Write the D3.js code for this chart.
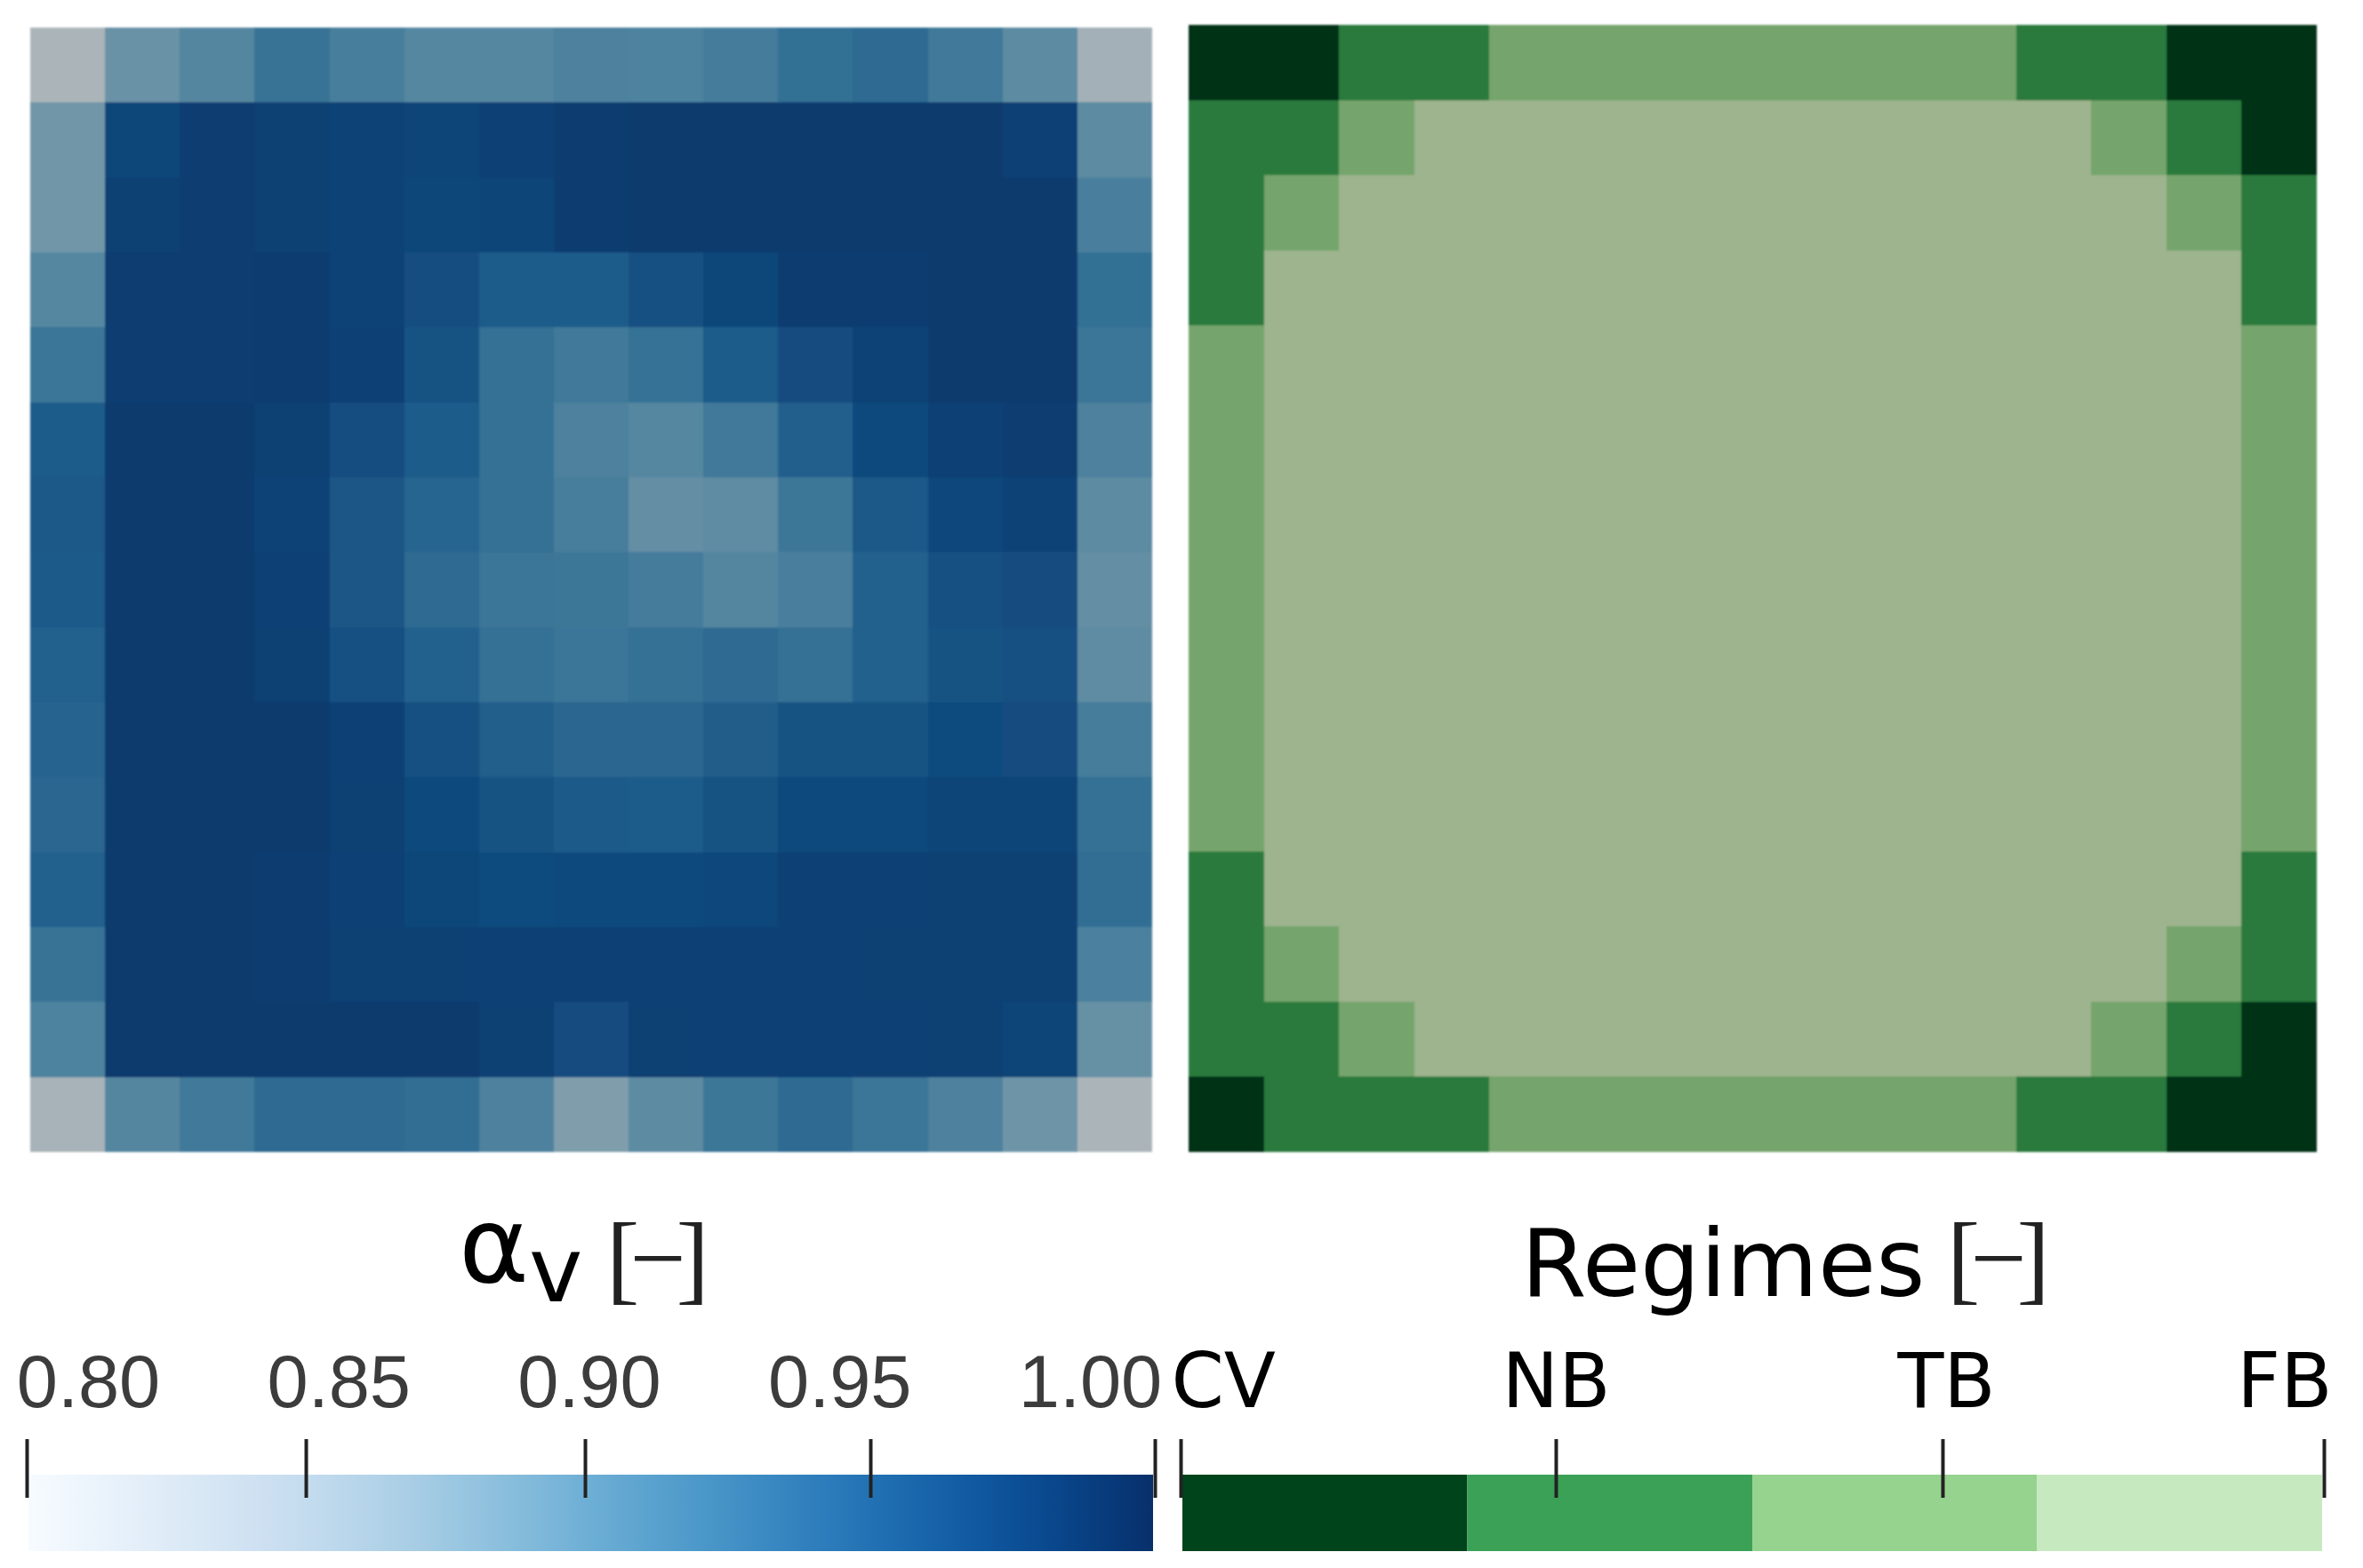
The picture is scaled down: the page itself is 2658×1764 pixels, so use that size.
<!DOCTYPE html>
<html>
<head>
<meta charset="utf-8">
<script src="https://cdn.jsdelivr.net/npm/d3@7"></script>
<style>
    html, body { margin: 0; background: #fff; overflow: hidden; }
    svg { display: block; }
</style>
</head>
<body>
<script>
// void fraction per cell, top row first
var alphaRows = [
    [.825,.885,.900,.922,.910,.899,.899,.905,.904,.912,.926,.930,.915,.894,.835],
    [.880,.967,.976,.974,.971,.969,.972,.977,.978,.978,.978,.978,.979,.973,.895],
    [.880,.974,.976,.974,.970,.967,.969,.977,.978,.978,.978,.978,.979,.978,.908],
    [.899,.976,.976,.977,.970,.960,.945,.945,.958,.967,.977,.977,.978,.978,.926],
    [.920,.976,.976,.977,.972,.955,.925,.915,.923,.945,.961,.970,.978,.978,.920],
    [.945,.978,.978,.974,.960,.945,.925,.905,.899,.915,.942,.964,.973,.976,.905],
    [.948,.978,.978,.970,.950,.936,.924,.910,.890,.893,.917,.948,.966,.970,.895],
    [.947,.978,.978,.972,.950,.930,.920,.917,.912,.900,.908,.940,.958,.961,.890],
    [.940,.978,.978,.974,.957,.940,.925,.920,.925,.930,.925,.940,.955,.958,.893],
    [.937,.978,.978,.978,.972,.958,.943,.935,.935,.944,.955,.955,.962,.961,.911],
    [.935,.978,.978,.978,.974,.965,.955,.947,.945,.955,.965,.965,.968,.969,.924],
    [.940,.978,.978,.977,.972,.967,.962,.964,.964,.966,.973,.973,.974,.974,.927],
    [.922,.978,.978,.977,.974,.974,.973,.972,.972,.972,.973,.974,.974,.974,.906],
    [.904,.978,.978,.978,.979,.979,.974,.961,.974,.973,.973,.973,.974,.969,.887],
    [.830,.900,.915,.930,.930,.928,.905,.870,.895,.917,.930,.920,.905,.882,.825]
];

// regime per cell: 0 CV, 1 NB, 2 TB, 3 FB
var regimeRows = [
    [0,0,1,1,2,2,2,2,2,2,2,1,1,0,0],
    [1,1,2,3,3,3,3,3,3,3,3,3,2,1,0],
    [1,2,3,3,3,3,3,3,3,3,3,3,3,2,1],
    [1,3,3,3,3,3,3,3,3,3,3,3,3,3,1],
    [2,3,3,3,3,3,3,3,3,3,3,3,3,3,2],
    [2,3,3,3,3,3,3,3,3,3,3,3,3,3,2],
    [2,3,3,3,3,3,3,3,3,3,3,3,3,3,2],
    [2,3,3,3,3,3,3,3,3,3,3,3,3,3,2],
    [2,3,3,3,3,3,3,3,3,3,3,3,3,3,2],
    [2,3,3,3,3,3,3,3,3,3,3,3,3,3,2],
    [2,3,3,3,3,3,3,3,3,3,3,3,3,3,2],
    [1,3,3,3,3,3,3,3,3,3,3,3,3,3,1],
    [1,2,3,3,3,3,3,3,3,3,3,3,3,2,1],
    [1,1,2,3,3,3,3,3,3,3,3,3,2,1,0],
    [0,1,1,1,2,2,2,2,2,2,2,1,1,0,0]
];

var regimeNames = ["CV", "NB", "TB", "FB"];
var alphaTicks = [0.80, 0.85, 0.90, 0.95, 1.00];

var regimeLegendColors = ["#00441b", "#3ba157", "#95d38f", "#c7e9c0"];
var regimeMapColors = ["#013214", "#2b7a3d", "#74a46c", "#9eb48e"];

var width = 2658;
var height = 1764;
var shade = 0.77; // the maps are rendered darker than their colour bars
var shadeBlue = 0.75;

var svg = d3.select("body").append("svg")
    .attr("width", width)
    .attr("height", height);

var defs = svg.append("defs");

defs.append("filter")
    .attr("id", "soft")
    .attr("x", "-2%").attr("y", "-2%")
    .attr("width", "104%").attr("height", "104%")
    .append("feGaussianBlur")
    .attr("stdDeviation", 1.3);

// colour scales
var alphaColor = d3.scaleSequential(d3.interpolateBlues).domain([0.8, 1]);

function shaded(v) {
    var c = d3.rgb(alphaColor(v));
    return d3.rgb(c.r * shade, c.g * shade, c.b * shadeBlue).formatHex();
}

var regimeMapColor = d3.scaleOrdinal().domain([0, 1, 2, 3]).range(regimeMapColors);
var regimeLegendColor = d3.scaleOrdinal().domain(regimeNames).range(regimeLegendColors);

// draw one 15x15 map
function drawMap(rows, x0, x1, y0, y1, fill) {
    var ids = d3.range(rows.length);
    var x = d3.scaleBand().domain(ids).range([x0, x1]);
    var y = d3.scaleBand().domain(ids).range([y0, y1]);

    var g = svg.append("g")
        .attr("filter", "url(#soft)")
        .attr("shape-rendering", "crispEdges");

    var row = g.selectAll("g").data(rows).enter()
        .append("g")
        .attr("transform", function(d, i) { return "translate(0," + y(i) + ")"; });

    row.selectAll("rect")
        .data(function(d) { return d; })
        .enter()
        .append("rect")
        .attr("x", function(d, i) { return x(i); })
        .attr("width", function(d, i) { return i == rows.length - 1 ? x.bandwidth() : x.bandwidth() + 1; })
        .attr("height", function() { return d3.select(this.parentNode).datum() === rows[rows.length - 1] ? y.bandwidth() : y.bandwidth() + 1; })
        .style("fill", fill);
}

drawMap(alphaRows, 34, 1296, 31, 1296, shaded);
drawMap(regimeRows, 1337, 2606, 28, 1296, function(d) { return regimeMapColor(d); });

// colour bars
var barTop = 1659;
var barHeight = 86;
var tickBase = 1685;
var tickLen = 66;

var gradient = defs.append("linearGradient").attr("id", "alphaBar");
gradient.selectAll("stop")
    .data(d3.range(0, 1.001, 0.05))
    .enter()
    .append("stop")
    .attr("offset", function(d) { return d; })
    .attr("stop-color", function(d) { return alphaColor(0.8 + d * 0.2); });

svg.append("rect")
    .attr("x", 32)
    .attr("y", barTop)
    .attr("width", 1265)
    .attr("height", barHeight)
    .style("fill", "url(#alphaBar)");

var regimeBand = d3.scaleBand().domain(regimeNames).range([1330, 2612]);

svg.selectAll(".regime-bar")
    .data(regimeNames)
    .enter()
    .append("rect")
    .attr("class", "regime-bar")
    .attr("x", function(d) { return regimeBand(d); })
    .attr("y", barTop)
    .attr("width", regimeBand.bandwidth())
    .attr("height", barHeight)
    .style("fill", function(d) { return regimeLegendColor(d); });

// axes
var alphaScale = d3.scaleLinear()
    .domain(alphaTicks)
    .range([30, 344, 658, 979, 1299]);

// the labels sit on their own even spacing, not over the ticks
var alphaLabelX = d3.scaleLinear().domain([0.8, 1]).range([99, 1226]);

var alphaAxis = svg.append("g")
    .attr("transform", "translate(0," + tickBase + ")")
    .call(d3.axisTop(alphaScale)
        .tickValues(alphaTicks)
        .tickFormat(d3.format(".2f"))
        .tickSizeInner(tickLen)
        .tickSizeOuter(0));

alphaAxis.select(".domain").remove();
alphaAxis.selectAll("line").attr("stroke", "#222").attr("stroke-width", 4);
alphaAxis.selectAll("text")
    .attr("y", -102)
    .attr("dy", 0)
    .attr("x", function(d) { return alphaLabelX(d) - alphaScale(d); })
    .style("font-family", "'Liberation Sans'")
    .style("font-size", "83px")
    .style("fill", "#3c3c3c");

var regimeScale = d3.scaleOrdinal().domain(regimeNames).range([1328, 1750, 2185, 2614]);
var regimeLabelShift = [-11, 0, 4, 9];

var regimeAxis = svg.append("g")
    .attr("transform", "translate(0," + tickBase + ")")
    .call(d3.axisTop(regimeScale)
        .tickSizeInner(tickLen)
        .tickSizeOuter(0));

regimeAxis.select(".domain").remove();
regimeAxis.selectAll("line").attr("stroke", "#222").attr("stroke-width", 4);
regimeAxis.selectAll("text")
    .attr("y", -102)
    .attr("dy", 0)
    .attr("x", function(d, i) { return regimeLabelShift[i]; })
    .attr("text-anchor", function(d, i) { return i == 0 ? "start" : (i == 3 ? "end" : "middle"); })
    .style("font-family", "'DejaVu Sans'")
    .style("font-size", "85px")
    .style("fill", "#000");

// titles
svg.append("text")
    .attr("x", 516)
    .attr("y", 1442)
    .style("font-family", "'DejaVu Sans'")
    .style("font-size", "120px")
    .text("α");

svg.append("text")
    .attr("x", 595)
    .attr("y", 1464)
    .style("font-family", "'DejaVu Sans'")
    .style("font-size", "102px")
    .text("v");

svg.append("text")
    .attr("x", 1711)
    .attr("y", 1458)
    .style("font-family", "'DejaVu Sans'")
    .style("font-size", "106px")
    .text("Regimes");

function unitLabel(x) {
    svg.append("text")
        .attr("x", x)
        .attr("y", 1453)
        .style("font-family", "'Liberation Serif'")
        .style("font-size", "112px")
        .style("letter-spacing", "-11px")
        .style("fill", "#222")
        .text("[−]");
}

unitLabel(682);
unitLabel(2190);
</script>
</body>
</html>
